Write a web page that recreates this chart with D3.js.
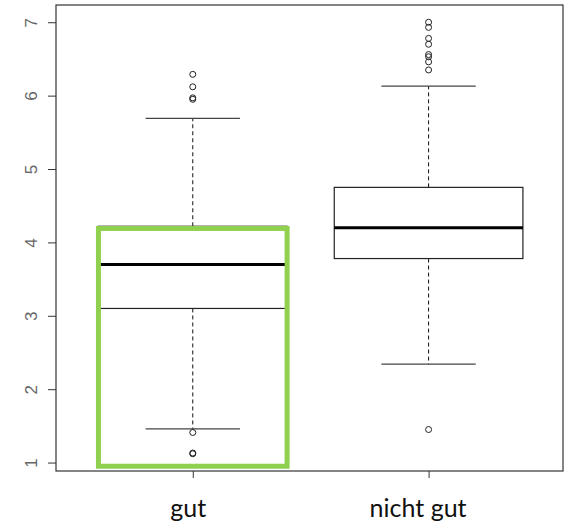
<!DOCTYPE html>
<html>
<head lang="en">
	<meta charset="UTF-8">
	<title></title>
	<script src="https://cdn.jsdelivr.net/npm/d3@7"></script>
	<style>
		body { margin: 0; background: #fff; }
	</style>
</head>
<body>
<script>

	// box statistics
	var groups = ["gut", "nicht gut"];
	var q1 = [3.10, 3.78];
	var median = [3.70, 4.20];
	var q3 = [4.22, 4.75];
	var whiskerLow = [1.46, 2.34];
	var whiskerHigh = [5.69, 6.13];
	var outliers = [
		[6.29, 6.12, 5.97, 5.95, 1.41, 1.13, 1.12],
		[7.00, 6.93, 6.78, 6.70, 6.56, 6.53, 6.46, 6.35, 1.45]
	];
	var yTicks = [1, 2, 3, 4, 5, 6, 7];
	// green marker round the first box (lower, upper value)
	var highlight = [0.95, 4.19];

	var W = 567, H = 523;
	var svg = d3.select("body").append("svg").attr("width", W).attr("height", H);

	var x = d3.scaleLinear().domain([0.42, 2.57]).range([56, 563]);
	var y = d3.scaleLinear().domain([0.885, 7.235]).range([471, 5]);

	// y axis, R style: vertical labels
	var yAxis = svg.append("g").attr("transform", "translate(56,0)")
		.call(d3.axisLeft(y).tickValues(yTicks).tickSize(8).tickFormat(d3.format("d")));
	yAxis.select(".domain").remove();
	yAxis.selectAll("line").attr("stroke", "#333");
	yAxis.selectAll("text")
		.attr("x", 0).attr("dy", 0)
		.attr("transform", "translate(-19,0) rotate(-90)")
		.attr("text-anchor", "middle")
		.style("font-family", "Liberation Sans, Arial, sans-serif")
		.style("font-size", "17px")
		.attr("fill", "#666");

	// x axis (labels were set slightly left of the ticks)
	var xAxis = svg.append("g").attr("transform", "translate(0,471)")
		.call(d3.axisBottom(x).tickValues([1, 2]).tickSize(7).tickFormat(function (d) { return groups[d - 1]; }));
	xAxis.select(".domain").remove();
	xAxis.selectAll("line").attr("stroke", "#333");
	xAxis.selectAll("text")
		.attr("y", 0).attr("dy", 0)
		.attr("transform", function (d) { return "translate(" + (d === 1 ? -5 : -11) + ",46)"; })
		.style("font-family", "Lato, sans-serif")
		.style("font-size", "25px")
		.attr("fill", "#111");

	// frame
	svg.append("rect")
		.attr("x", x.range()[0]).attr("y", y.range()[1])
		.attr("width", x.range()[1] - x.range()[0]).attr("height", y.range()[0] - y.range()[1])
		.attr("fill", "none").attr("stroke", "#333").attr("stroke-width", 1.2);

	var boxW = 0.4, capW = 0.2;

	groups.forEach(function (g, i) {
		var c = i + 1;
		var p = svg.append("g");

		// whiskers
		p.append("line")
			.attr("x1", x(c)).attr("x2", x(c)).attr("y1", y(q3[i])).attr("y2", y(whiskerHigh[i]))
			.attr("stroke", "#111").attr("stroke-dasharray", "4,3");
		p.append("line")
			.attr("x1", x(c)).attr("x2", x(c)).attr("y1", y(q1[i])).attr("y2", y(whiskerLow[i]))
			.attr("stroke", "#111").attr("stroke-dasharray", "4,3");
		[whiskerLow[i], whiskerHigh[i]].forEach(function (v) {
			p.append("line")
				.attr("x1", x(c - capW)).attr("x2", x(c + capW)).attr("y1", y(v)).attr("y2", y(v))
				.attr("stroke", "#444").attr("stroke-width", 1.2);
		});

		// box
		p.append("rect")
			.attr("x", x(c - boxW)).attr("y", y(q3[i]))
			.attr("width", x(c + boxW) - x(c - boxW)).attr("height", y(q1[i]) - y(q3[i]))
			.attr("fill", "#fff").attr("stroke", "#222").attr("stroke-width", 1.2);
		p.append("line")
			.attr("x1", x(c - boxW)).attr("x2", x(c + boxW)).attr("y1", y(median[i])).attr("y2", y(median[i]))
			.attr("stroke", "#000").attr("stroke-width", 3);

		// outliers
		p.selectAll("circle").data(outliers[i]).enter().append("circle")
			.attr("cx", x(c)).attr("cy", function (d) { return y(d); })
			.attr("r", 3).attr("fill", "none").attr("stroke", "#222").attr("stroke-width", 1);
	});

	// green highlight round "gut"
	svg.append("rect")
		.attr("x", x(1 - boxW)).attr("y", y(highlight[1]))
		.attr("width", x(1 + boxW) - x(1 - boxW)).attr("height", y(highlight[0]) - y(highlight[1]))
		.attr("fill", "none").attr("stroke", "#8fd14f").attr("stroke-width", 5);

</script>
</body>
</html>
